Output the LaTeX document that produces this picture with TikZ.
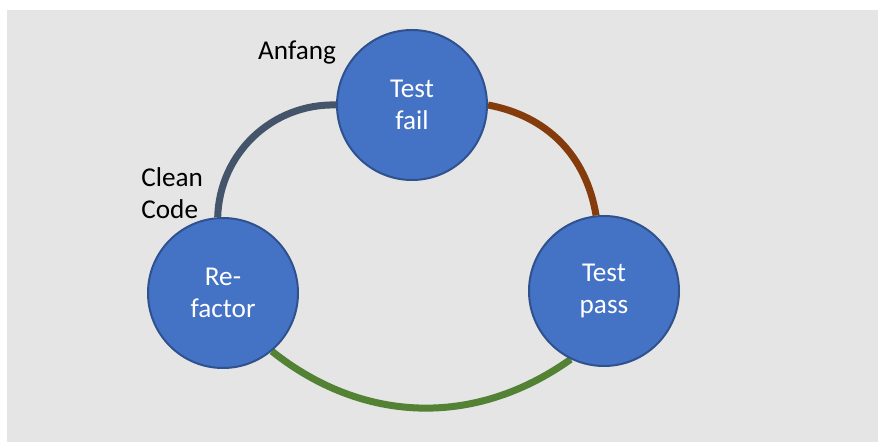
\documentclass[tikz,border=0pt]{standalone}
\usepackage{fontspec}
\setmainfont{Carlito}
\usetikzlibrary{backgrounds}
\definecolor{phasefill}{HTML}{4472C4}
\definecolor{phaseborder}{HTML}{2F528F}
\definecolor{backfill}{HTML}{E5E5E5}
\definecolor{slateline}{HTML}{44546A}
\definecolor{brownline}{HTML}{843C0C}
\definecolor{greenline}{HTML}{548235}
\tikzset{
  phase/.style={circle, draw=phaseborder, line width=1pt, fill=phasefill,
    text=white, minimum size=75pt, inner sep=0pt, align=center,
    font=\fontsize{13.6}{16}\selectfont},
  note/.style={inner sep=0pt, font=\fontsize{13.6}{16}\selectfont},
  cycleline/.style={line width=3.5pt}
}
\begin{document}
\begin{tikzpicture}[x=0.5pt,y=-0.5pt]
  \useasboundingbox (0,0) rectangle (878,442);
  % the three phases
  \node[phase] (fail) at (412,105) {Test\\fail};
  \node[phase] (pass) at (604,291) {Test\\pass};
  \node[phase] (refactor) at (223,293) {Re-\\factor};
  \node[note, anchor=base] (anfang) at (297,60) {Anfang};
  \node[note, anchor=west, align=left] (clean) at (141,193) {Clean\\Code};
  \begin{scope}[on background layer]
    \fill[backfill] (7,10) rectangle (878,442);
    \draw[cycleline, slateline] (fail.west) to[bend right=45] (refactor.94);
    \draw[cycleline, brownline] (fail.east) to[bend left=35] (pass.96);
    \draw[cycleline, greenline] (refactor.-50) to[bend right=37] (pass.-116);
  \end{scope}
\end{tikzpicture}
\end{document}
